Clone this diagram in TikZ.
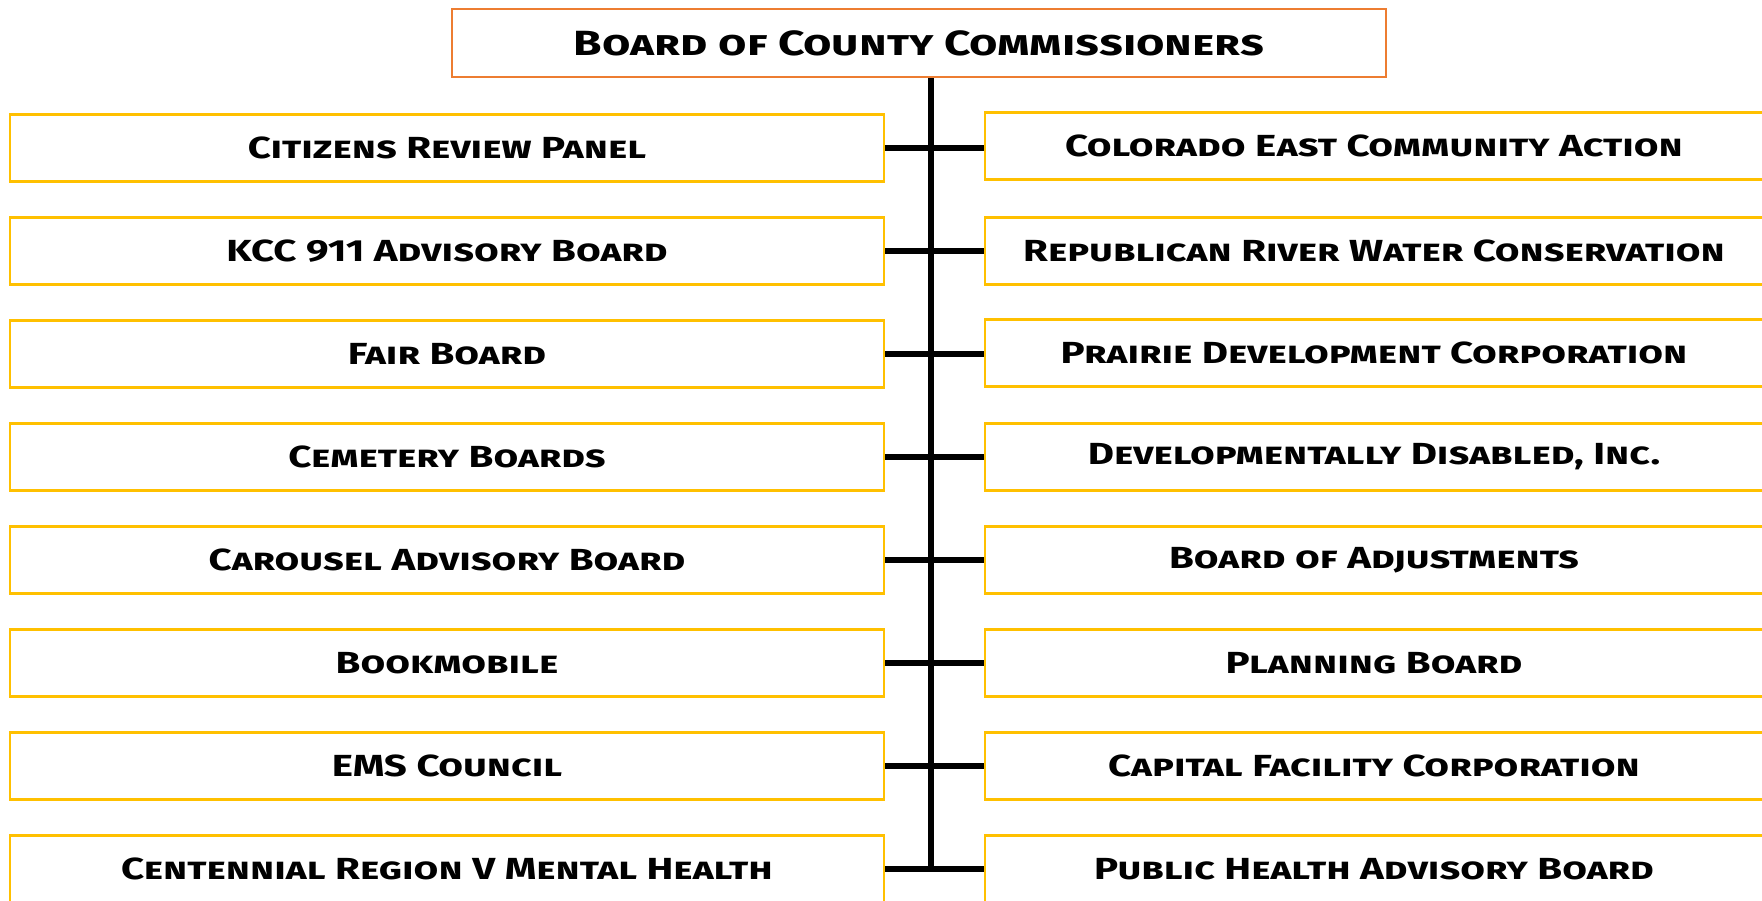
\documentclass[tikz,border=0pt]{standalone}
\usepackage{fontspec}
\setmainfont{Fira Sans}
\newfontfamily\orgfont{Fira Sans}[FakeStretch=1.32]
\definecolor{boardorange}{HTML}{ED7D31}
\definecolor{panelgold}{HTML}{FFC000}
\begin{document}
\begin{tikzpicture}[x=1pt,y=-1pt,
        board/.style={draw=boardorange,line width=2.5pt,fill=white,minimum width=934pt,minimum height=68pt,
            font=\orgfont\fontsize{35}{40}\selectfont\bfseries\scshape},
        member/.style={draw=panelgold,line width=2.5pt,fill=white,minimum height=67pt,
            font=\orgfont\fontsize{30.5}{34}\selectfont\bfseries\scshape},
        leftbox/.style={member,minimum width=874pt},
        rightbox/.style={member,minimum width=778pt},
        link/.style={line width=6.5pt}]
        \useasboundingbox[fill=white] (0,0) rectangle (1762,901);

        \node[board] (commissioners) at (919,43) {Board of County Commissioners};
        \coordinate (trunk) at (931,869);

        % left column
        \node[leftbox] (l1) at (447,148) {Citizens Review Panel};
        \node[leftbox] (l2) at (447,251) {KCC 911 Advisory Board};
        \node[leftbox] (l3) at (447,354) {Fair Board};
        \node[leftbox] (l4) at (447,457) {Cemetery Boards};
        \node[leftbox] (l5) at (447,560) {Carousel Advisory Board};
        \node[leftbox] (l6) at (447,663) {Bookmobile};
        \node[leftbox] (l7) at (447,766) {EMS Council};
        \node[leftbox] (l8) at (447,869) {Centennial Region V Mental Health};

        % right column
        \node[rightbox] (r1) at (1374,146) {Colorado East Community Action};
        \node[rightbox] (r2) at (1374,251) {Republican River Water Conservation};
        \node[rightbox] (r3) at (1374,353) {Prairie Development Corporation};
        \node[rightbox] (r4) at (1374,457) {Developmentally Disabled, Inc.};
        \node[rightbox] (r5) at (1374,560) {Board of Adjustments};
        \node[rightbox] (r6) at (1374,663) {Planning Board};
        \node[rightbox] (r7) at (1374,766) {Capital Facility Corporation};
        \node[rightbox] (r8) at (1374,869) {Public Health Advisory Board};

        \draw[link] (commissioners.south -| trunk) -- (trunk);

        \draw[link] (l1.east) -- (l1.east -| r1.west);
        \draw[link] (l2.east) -- (l2.east -| r2.west);
        \draw[link] (l3.east) -- (l3.east -| r3.west);
        \draw[link] (l4.east) -- (l4.east -| r4.west);
        \draw[link] (l5.east) -- (l5.east -| r5.west);
        \draw[link] (l6.east) -- (l6.east -| r6.west);
        \draw[link] (l7.east) -- (l7.east -| r7.west);
        \draw[link] (l8.east) -- (l8.east -| r8.west);

    \end{tikzpicture}
\end{document}
